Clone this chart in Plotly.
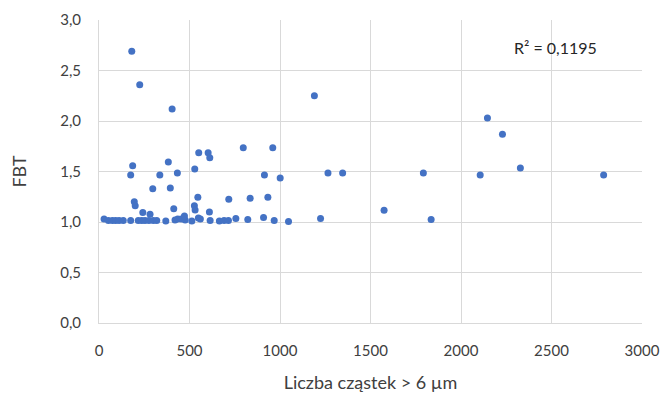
import plotly.graph_objects as go

# Particle counts (> 6 µm) and corresponding FBT values
particles = [
    28, 52, 74, 92, 111, 134, 175, 217, 236, 254, 276, 300, 319, 369, 420,
    435, 454, 476, 513, 549, 560, 614, 665, 691, 715, 756, 822, 909, 968,
    1047, 1224, 1835,
    175, 186, 195, 200, 242, 282, 297, 336, 383, 394, 413, 433, 472, 527,
    531, 546, 529, 551, 603, 612, 610, 717, 797, 835, 914, 933, 960, 1001,
    181, 225, 404, 1190, 1265, 1346, 1575, 1792, 2106, 2146, 2229, 2328, 2788,
]
fbt = [
    1.03, 1.015, 1.015, 1.015, 1.015, 1.015, 1.015, 1.015, 1.015, 1.015,
    1.015, 1.015, 1.015, 1.01, 1.02, 1.03, 1.03, 1.02, 1.01, 1.04, 1.03,
    1.015, 1.01, 1.015, 1.015, 1.035, 1.025, 1.045, 1.015, 1.005, 1.035,
    1.025,
    1.465, 1.557, 1.2, 1.16, 1.095, 1.076, 1.33, 1.465, 1.594, 1.337, 1.13,
    1.485, 1.06, 1.16, 1.12, 1.245, 1.525, 1.686, 1.686, 1.637, 1.10, 1.225,
    1.736, 1.235, 1.465, 1.245, 1.736, 1.436,
    2.69, 2.36, 2.12, 2.25, 1.485, 1.485, 1.116, 1.485, 1.465, 2.03, 1.87,
    1.535, 1.465,
]

r2_label = "R² = 0,1195"

font_family = "Lato, 'Open Sans', sans-serif"
text_color = "#404040"
grid_color = "#d9d9d9"

fig = go.Figure(
    go.Scatter(
        x=particles,
        y=fbt,
        mode="markers",
        marker=dict(color="#4472C4", size=7, line=dict(width=0)),
        showlegend=False,
    )
)

fig.add_annotation(
    x=2522, y=2.73, xref="x", yref="y",
    text=r2_label, showarrow=False,
    font=dict(family=font_family, size=16, color="#262626"),
)

fig.update_layout(
    width=664,
    height=394,
    margin=dict(l=99, r=22, t=20, b=71),
    paper_bgcolor="white",
    plot_bgcolor="white",
    separators=", ",
    font=dict(family=font_family, color=text_color, size=15),
)

fig.update_xaxes(
    range=[0, 3000],
    dtick=500,
    tickformat="d",
    automargin=False,
    showgrid=True,
    gridcolor=grid_color,
    gridwidth=1,
    zeroline=False,
    showline=True,
    linecolor=grid_color,
    linewidth=1,
    ticks="",
    ticklabelstandoff=14,
    tickfont=dict(size=15, color=text_color),
    title=dict(text="Liczba cząstek > 6 µm", font=dict(size=18, color=text_color), standoff=18),
)

fig.update_yaxes(
    range=[0, 3],
    dtick=0.5,
    tickformat=".1f",
    automargin=False,
    showgrid=True,
    gridcolor=grid_color,
    gridwidth=1,
    zeroline=False,
    showline=True,
    linecolor=grid_color,
    linewidth=1,
    ticks="",
    ticklabelstandoff=14,
    tickfont=dict(size=15, color=text_color),
    title=dict(text="FBT", font=dict(size=18, color=text_color), standoff=28),
)

fig.write_html("out.html")
